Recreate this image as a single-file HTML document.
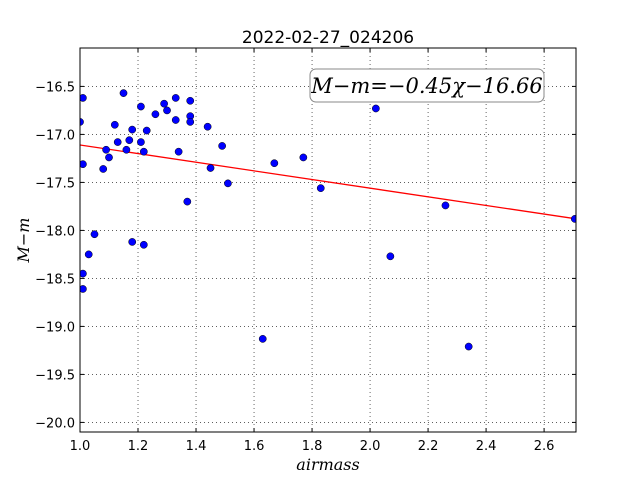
<!DOCTYPE html>
<html><head><meta charset="utf-8"><style>
body{margin:0;background:#fff;width:640px;height:480px;overflow:hidden}
text{font-family:"DejaVu Sans","Liberation Sans",sans-serif}
</style></head><body>
<svg id="chart" width="640" height="480" viewBox="0 0 640 480">
<rect width="640" height="480" fill="#fff"/>
<text x="328" y="43" font-size="17" text-anchor="middle">2022-02-27_024206</text>
<g id="grid"></g><g id="ticks"></g><g id="marks"></g>
<rect x="80" y="48" width="496" height="384" fill="none" stroke="#000" stroke-width="1"/>
<g>
<rect x="310" y="69" width="234" height="33" rx="6" fill="#fff" stroke="#888" stroke-width="1"/>
<text x="427" y="93" font-size="21" text-anchor="middle" font-family="'DejaVu Serif','Liberation Serif',serif" font-style="italic" style="font-family:'DejaVu Serif','Liberation Serif',serif">M−m=−0.45χ−16.66</text>
</g>
<text x="328" y="470" font-size="16" text-anchor="middle" font-style="italic" style="font-family:'DejaVu Serif','Liberation Serif',serif">airmass</text>
<text transform="translate(29,240) rotate(-90)" font-size="16" text-anchor="middle" font-style="italic" style="font-family:'DejaVu Serif','Liberation Serif',serif">M−m</text>
</svg>
<script>
const airmass=[1.00,1.01,1.01,1.01,1.01,1.03,1.05,1.08,1.09,1.10,1.12,1.13,1.15,1.16,1.17,1.18,1.18,1.21,1.21,1.22,1.22,1.23,1.26,1.29,1.30,1.33,1.33,1.34,1.37,1.38,1.38,1.38,1.44,1.45,1.49,1.51,1.63,1.67,1.77,1.83,2.02,2.07,2.26,2.34,2.706];
const mag=[-16.87,-16.62,-17.31,-18.45,-18.61,-18.25,-18.04,-17.36,-17.16,-17.24,-16.90,-17.08,-16.57,-17.16,-17.06,-18.12,-16.95,-16.71,-17.08,-17.18,-18.15,-16.96,-16.79,-16.68,-16.75,-16.62,-16.85,-17.18,-17.70,-16.81,-16.87,-16.65,-16.92,-17.35,-17.12,-17.51,-19.13,-17.30,-17.24,-17.56,-16.73,-18.27,-17.74,-19.21,-17.88];
const fitSlope=-0.45, fitIntercept=-16.66;
const xTicks=[1.0,1.2,1.4,1.6,1.8,2.0,2.2,2.4,2.6];
const yTicks=[-16.5,-17.0,-17.5,-18.0,-18.5,-19.0,-19.5,-20.0];
const X0=80,X1=576,Y0=48,Y1=432,xmin=1.0,xmax=2.71,ymin=-20.1,ymax=-16.1;
const sx=v=>X0+(v-xmin)/(xmax-xmin)*(X1-X0);
const sy=v=>Y0+(ymax-v)/(ymax-ymin)*(Y1-Y0);
const NS="http://www.w3.org/2000/svg";
function mk(t,a,p){const e=document.createElementNS(NS,t);for(const k in a)e.setAttribute(k,a[k]);p.appendChild(e);return e;}
const grid=document.getElementById('grid'),ticks=document.getElementById('ticks'),marks=document.getElementById('marks');
xTicks.forEach(v=>{const x=sx(v);
 const g=mk('line',{x1:x,x2:x,y1:Y0,y2:Y1,stroke:'#000','stroke-width':0.6,'stroke-dasharray':'1,3'},grid);
 
 
 mk('line',{x1:x,x2:x,y1:Y1,y2:Y1-4,stroke:'#000'},ticks);
 mk('line',{x1:x,x2:x,y1:Y0,y2:Y0+4,stroke:'#000'},ticks);
 const t=mk('text',{x:x,y:Y1+18,'font-size':13,'text-anchor':'middle'},ticks);t.textContent=v.toFixed(1);
 
 
});
yTicks.forEach(v=>{const y=sy(v);
 const g=mk('line',{x1:X0,x2:X1,y1:y,y2:y,stroke:'#000','stroke-width':0.6,'stroke-dasharray':'1,3'},grid);
 
 
 mk('line',{x1:X0,x2:X0+4,y1:y,y2:y,stroke:'#000'},ticks);
 mk('line',{x1:X1,x2:X1-4,y1:y,y2:y,stroke:'#000'},ticks);
 const t=mk('text',{x:X0-5,y:y+5,'font-size':13,'text-anchor':'end'},ticks);t.textContent=v.toFixed(1).replace('-','−');
 
 
});
const fl=mk('line',{x1:sx(xmin),y1:sy(fitSlope*xmin+fitIntercept),x2:sx(xmax),y2:sy(fitSlope*xmax+fitIntercept),stroke:'#f00','stroke-width':1.3},marks);


const clip=mk('clipPath',{id:'pc'},document.getElementById('chart'));mk('rect',{x:X0,y:Y0,width:X1-X0,height:Y1-Y0},clip);
marks.setAttribute('clip-path','url(#pc)');
airmass.forEach((a,i)=>{const c=mk('circle',{cx:sx(a),cy:sy(mag[i]),r:3.6,fill:'#0000ff',stroke:'#000','stroke-width':0.5},marks);
 
 
});
</script>
</body></html>
